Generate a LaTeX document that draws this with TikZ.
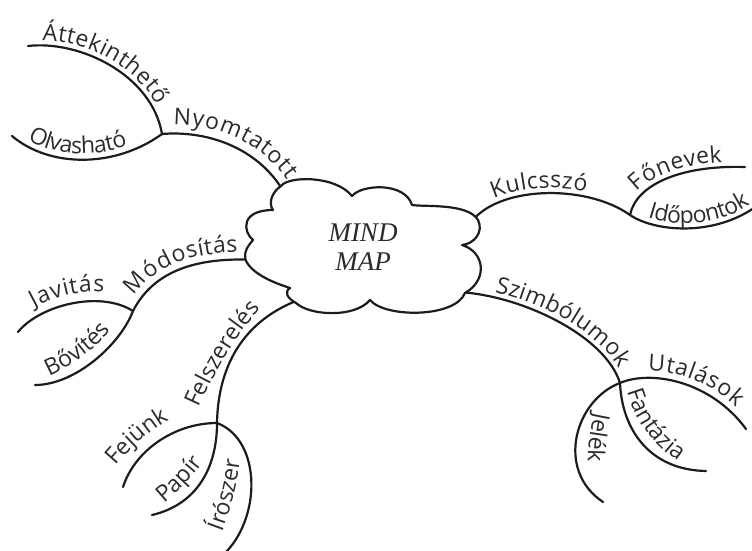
\documentclass[tikz,border=0pt]{standalone}
\usepackage{fontspec}
\setmainfont{Open Sans}
\newfontfamily\mapfont{Liberation Serif}
\usetikzlibrary{decorations.text}
\definecolor{ink}{HTML}{1C1C1C}
\definecolor{txt}{HTML}{2B2B2B}
\newcommand\labelfont{\fontsize{23}{23}\selectfont}

\begin{document}
\begin{tikzpicture}[x=1pt,y=-1pt,
  branch/.style={draw=ink, line width=2.2pt, line cap=round},
  lbl/.style n args={3}{postaction={decorate, decoration={text along path,
      text={|\labelfont|#3}, raise=#2, text align={left indent=#1}, text color=txt}}},
  bubble/.style={draw=ink, line width=2.2pt, fill=white, line join=round},
  title/.style={font=\mapfont\itshape\fontsize{27}{29.5}\selectfont, text=txt, align=center}]
\useasboundingbox (0,0) rectangle (752,551);
\clip (0,0) rectangle (752,551);

% junctions and free ends
\coordinate (J1) at (162,134);
\coordinate (J2) at (630,215);
\coordinate (J3) at (133,311);
\coordinate (J4) at (217,423);
\coordinate (J5) at (620,383);
\coordinate (nyE) at (286,196);
\coordinate (atE) at (28,46);
\coordinate (olE) at (12,136);
\coordinate (kuE) at (470,224);
\coordinate (foE) at (745,167);
\coordinate (idE) at (762,202);
\coordinate (moE) at (256,260);
\coordinate (jaE) at (18,332);
\coordinate (boE) at (35,385);
\coordinate (feE) at (304,298);
\coordinate (fjE) at (123,487);
\coordinate (paE) at (152,515);
\coordinate (irE) at (222,556);
\coordinate (szE) at (458,292);
\coordinate (utE) at (746,429);
\coordinate (faE) at (706,471);
\coordinate (jeE) at (603,502);
% baselines of labels set apart from their branch
\coordinate (bbA) at (49,376);
\coordinate (bbB) at (114,326);
\coordinate (fbA) at (199,408);
\coordinate (fbB) at (266,303);
\coordinate (kbA) at (116,466);
\coordinate (kbB) at (186,411);
\coordinate (pbA) at (164,503);
\coordinate (pbB) at (209,454);
\coordinate (ibA) at (222,532);
\coordinate (ibB) at (241,452);
\coordinate (jbA) at (594,412);
\coordinate (jbB) at (589,474);
\coordinate (tbA) at (627,391);
\coordinate (tbB) at (688,467);

% upper left: Nyomtatott
\draw[branch, lbl={11pt}{9pt}{Nyomtatott}] (J1) .. controls (210,130) and (262,150) .. (nyE);
\draw[branch, lbl={14pt}{5pt}{Áttekinthető}] (atE) .. controls (80,40) and (152,75) .. (J1);
\draw[branch, lbl={16pt}{6pt}{Olvasható}] (olE) .. controls (50,168) and (115,168) .. (J1);

% right: Kulcsszó
\draw[branch, lbl={33pt}{5pt}{Kulcsszó}] (kuE) .. controls (495,186) and (585,183) .. (J2);
\draw[branch, lbl={22pt}{5pt}{Főnevek}] (J2) .. controls (636,185) and (680,165) .. (foE);
\draw[branch, lbl={18pt}{5pt}{Időpontok}] (J2) .. controls (655,232) and (718,238) .. (idE);

% left: Módosítás
\draw[branch, lbl={12pt}{7pt}{Módosítás}] (J3) .. controls (150,278) and (185,256) .. (moE);
\draw[branch, lbl={26pt}{9pt}{Javitás}] (jaE) .. controls (40,305) and (100,290) .. (J3);
\draw[branch] (boE) .. controls (75,385) and (120,345) .. (J3);
\path[lbl={0pt}{0pt}{Bővítés}] (bbA) .. controls (70,367) and (96,350) .. (bbB);

% lower left: Felszerelés
\draw[branch] (J4) .. controls (218,370) and (240,320) .. (feE);
\path[lbl={0pt}{0pt}{Felszerelés}] (fbA) .. controls (214,375) and (238,330) .. (fbB);
\draw[branch] (fjE) .. controls (135,450) and (175,423) .. (J4);
\path[lbl={0pt}{0pt}{Fejünk}] (kbA) .. controls (133,446) and (156,424) .. (kbB);
\draw[branch] (paE) .. controls (195,505) and (217,470) .. (J4);
\path[lbl={0pt}{0pt}{Papír}] (pbA) .. controls (180,490) and (198,472) .. (pbB);
\draw[branch] (irE) .. controls (262,520) and (262,440) .. (J4);
\path[lbl={0pt}{0pt}{Írószer}] (ibA) .. controls (231,508) and (238,482) .. (ibB);

% lower right: Szimbólumok
\draw[branch, lbl={36pt}{5pt}{Szimbólumok}] (szE) .. controls (520,295) and (605,335) .. (J5);
\draw[branch, lbl={28pt}{7pt}{Utalások}] (J5) .. controls (650,370) and (710,380) .. (utE);
\draw[branch] (J5) .. controls (622,430) and (650,470) .. (faE);
\path[lbl={0pt}{0pt}{Fantázia}] (tbA) .. controls (636,422) and (656,450) .. (tbB);
\draw[branch] (J5) .. controls (575,400) and (555,470) .. (jeE);
\path[lbl={0pt}{0pt}{Jelék}] (jbA) .. controls (590,432) and (586,454) .. (jbB);

% central cloud
\draw[bubble]
  (281,186) .. controls (288,176) and (335,175) .. (352,196)
  .. controls (362,184) and (405,182) .. (412,205)
  .. controls (425,207) and (468,203) .. (478,220)
  .. controls (484,232) and (474,244) .. (462,245)
  .. controls (485,252) and (488,280) .. (465,293)
  .. controls (455,318) and (385,318) .. (370,300)
  .. controls (355,318) and (310,316) .. (296,303)
  .. controls (287,298) and (284,292) .. (290,288)
  .. controls (278,284) and (254,276) .. (246,261)
  .. controls (243,252) and (248,246) .. (253,240)
  .. controls (243,232) and (240,210) .. (273,210)
  .. controls (268,203) and (272,192) .. (281,186) -- cycle;
\node[title] (core) at (363,247) {MIND\\MAP};
\end{tikzpicture}
\end{document}
